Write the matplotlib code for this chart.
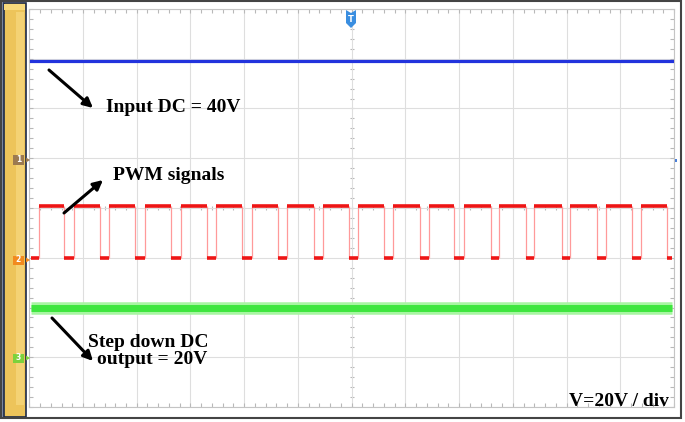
import numpy as np
import matplotlib
matplotlib.use("Agg")
import matplotlib.pyplot as plt
from matplotlib.patches import Rectangle, Polygon

W, H = 685, 422  # 图像尺寸(像素)

# 通道数据 (时间单位: div, 电压单位: V, 20V/div)
input_dc = 40.0          # CH1 输入直流
output_dc = 20.0         # CH3 降压输出
pwm_high = 21.7          # CH2 PWM 高电平
pwm_low = 0.6            # CH2 PWM 低电平
trace_start, trace_end = 0.03, 11.96
pwm_rise = [0.181, 0.838, 1.489, 2.153, 2.818, 3.475, 4.150, 4.802, 5.461,
            6.123, 6.775, 7.439, 8.096, 8.742, 9.393, 10.063, 10.728, 11.379]
pwm_fall = [0.651, 1.316, 1.967, 2.632, 3.302, 3.953, 4.634, 5.299, 5.956,
            6.607, 7.272, 7.914, 8.593, 9.244, 9.909, 10.560, 11.211, 11.874]

# 各通道零点位置 (V, 屏幕坐标)
off1, off2, off3 = 19.0, -20.8, -60.0


def fx(x):
    return x / W


def fy(y):
    return 1 - y / H


fig = plt.figure(figsize=(6.85, 4.22), dpi=100)
fig.patch.set_facecolor("white")
ax = fig.add_axes([fx(29.3), fy(407), (674 - 29.3) / W, (407 - 9) / H])
ax.set_xlim(0, 12)
ax.set_ylim(-80, 80)

# 网格
ax.set_xticks(np.arange(0, 13, 1))
ax.set_yticks(np.arange(-80, 81, 20))
ax.set_xticks(np.arange(0, 12.01, 0.2), minor=True)
ax.set_yticks(np.arange(-80, 80.1, 4), minor=True)
ax.grid(True, which="major", color="#dedede", lw=0.8, zorder=0)
ax.tick_params(which="both", direction="in", length=3, width=0.8, color="#b8b8b8",
               top=True, right=True, labelbottom=False, labelleft=False)
for s in ax.spines.values():
    s.set_color("#c4c4c4")
    s.set_linewidth(0.8)
# 中心线刻度
ax.vlines(np.arange(0, 12.01, 0.2), -0.8, 0.8, color="#b8b8b8", lw=0.8, zorder=1)
ax.hlines(np.arange(-80, 80.1, 4), 6 - 0.04, 6 + 0.04, color="#b8b8b8", lw=0.8, zorder=1)

# CH1 蓝色
ax.plot([trace_start, 12], [off1 + input_dc] * 2, color="#2233dd", lw=2.3, zorder=3)

# CH2 红色 PWM
hi = off2 + pwm_high
lo = off2 + pwm_low
ax.vlines(pwm_rise + pwm_fall, lo, hi, color="#ff9a9a", lw=0.9, zorder=2)
ax.hlines([hi] * len(pwm_rise), pwm_rise, pwm_fall, color="#ee1515", lw=2.6, zorder=3)
lo_start = [trace_start] + pwm_fall
lo_end = pwm_rise + [trace_end]
ax.hlines([lo] * len(lo_start), lo_start, lo_end, color="#ee1515", lw=2.6, zorder=3)

# CH3 绿色
ax.plot([trace_start, trace_end], [off3 + output_dc] * 2, color="#a8f5a2", lw=9, zorder=2,
        solid_capstyle="butt")
ax.plot([trace_start, trace_end], [off3 + output_dc] * 2, color="#3ee63e", lw=5, zorder=3,
        solid_capstyle="butt")

# 外框与左侧黄色条
fig.add_artist(Rectangle((fx(0), fy(422)), 1, 1, transform=fig.transFigure,
                         facecolor="none", edgecolor="none"))
fig.add_artist(Rectangle((fx(0), fy(418)), fx(3.5), (418 - 0) / H, transform=fig.transFigure,
                         facecolor="#7d88a0", edgecolor="none", zorder=5))
fig.add_artist(Rectangle((fx(3.5), fy(417)), fx(22), (417 - 3) / H, transform=fig.transFigure,
                         facecolor="#edc45a", edgecolor="#1c2a48", lw=1.2, zorder=5))
fig.add_artist(Rectangle((fx(16), fy(405)), fx(8.5), (405 - 12) / H, transform=fig.transFigure,
                         facecolor="#f4d274", edgecolor="none", zorder=5))
fig.add_artist(Rectangle((fx(4.2), fy(10)), fx(20.5), 6.5 / H, transform=fig.transFigure,
                         facecolor="#f8da7c", edgecolor="none", zorder=5))
fig.add_artist(Rectangle((fx(1), fy(417.5)), fx(680), 416.5 / H, transform=fig.transFigure,
                         facecolor="none", edgecolor="#444444", lw=1.5, zorder=6))

# 通道标记
for yy, col, lab in [(160, "#9c7a50", "1"), (260, "#f28a1e", "2"), (358, "#7cd23c", "3")]:
    fig.add_artist(Rectangle((fx(13), fy(yy + 4.5)), fx(11), 9 / H, transform=fig.transFigure,
                             facecolor=col, edgecolor="none", zorder=7))
    fig.text(fx(18.5), fy(yy), lab, fontsize=5.5, color="white", ha="center", va="center",
             fontweight="bold", zorder=8)
    fig.add_artist(Polygon([(fx(26), fy(yy - 2.5)), (fx(30), fy(yy)), (fx(26), fy(yy + 2.5))],
                           closed=True, transform=fig.transFigure, facecolor=col,
                           edgecolor="none", zorder=7))
fig.add_artist(Rectangle((fx(675), fy(161.5)), fx(2), 3 / H, transform=fig.transFigure,
                         facecolor="#4a7fd8", edgecolor="none", zorder=7))

# 触发标记
tx = 351
fig.add_artist(Polygon([(fx(tx - 5), fy(10)), (fx(tx), fy(13)), (fx(tx + 5), fy(10)),
                        (fx(tx + 5), fy(23)), (fx(tx), fy(28)), (fx(tx - 5), fy(23))],
                       closed=True, transform=fig.transFigure, facecolor="#3a8ee0",
                       edgecolor="none", zorder=7))
fig.text(fx(tx), fy(19), "T", fontsize=6, color="white", ha="center", va="center",
         fontweight="bold", zorder=8)

# 注释文字
tkw = dict(fontsize=14, fontweight="bold", family=["Liberation Serif", "DejaVu Serif"],
           va="baseline", zorder=9)
fig.text(fx(106), fy(112), "Input DC = 40V", **tkw)
fig.text(fx(113), fy(180), "PWM signals", **tkw)
fig.text(fx(88), fy(347), "Step down DC", **tkw)
fig.text(fx(97), fy(364), "output = 20V", **tkw)
fig.text(fx(669), fy(406.5), "V=20V / div", ha="right", **{k: v for k, v in tkw.items()
                                                           if k != "va"}, va="baseline")

# 箭头
akw = dict(arrowstyle="-|>", lw=2.2, color="black", mutation_scale=14, shrinkA=0, shrinkB=0)
for (x0, y0), (x1, y1) in [((49, 70), (93, 108)), ((64, 213), (103, 180)),
                           ((52, 318), (93, 361))]:
    ax.annotate("", xy=(fx(x1), fy(y1)), xycoords="figure fraction",
                xytext=(fx(x0), fy(y0)), textcoords="figure fraction",
                arrowprops=akw, zorder=9)

fig.savefig("out.png", dpi=100)
